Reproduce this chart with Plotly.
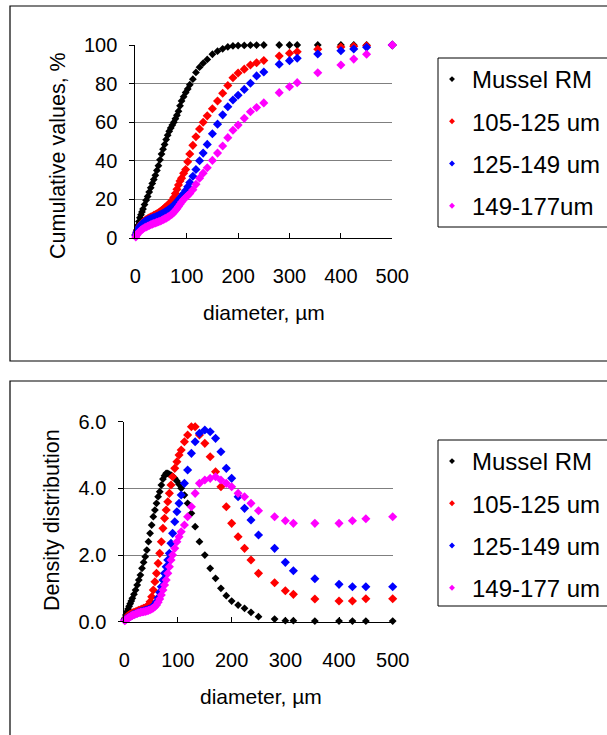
import plotly.graph_objects as go

W, H = 607, 735

diameter = [1, 3, 5, 7, 9, 11, 13, 15, 18, 21, 24, 27, 30, 33, 36, 39, 42, 45, 48, 51,
            54, 57, 60, 63, 66, 69, 72, 75, 78, 81, 84, 87, 90, 94, 98, 102, 106, 112, 118, 125,
            132, 140, 150, 160, 170, 180, 190, 200, 212, 224, 236, 250, 280, 300, 315, 355, 400, 425, 450, 500]

names_top = ["Mussel RM", "105-125 um", "125-149 um", "149-177um"]
names_bot = ["Mussel RM", "105-125 um", "125-149 um", "149-177 um"]
colors = ["#000000", "#ff0000", "#0000ff", "#ff00ff"]

cum_mussel = [2, 4, 6.5, 8.5, 10.5, 12, 13.5, 15, 17.3, 19.5, 21.5, 23.8, 26, 28.3, 30.3, 32.5, 35, 37.5, 40.5, 43.5,
              46, 48.5, 51, 53.3, 55.3, 57, 58.5, 60, 61.8, 63.6, 65.7, 68.5, 71, 73.2, 75.4, 77.2, 79.4, 82.3, 85.8, 88.5,
              90.6, 92.5, 95.2, 96.8, 98, 99, 99.5, 99.7, 99.8, 99.9, 99.95, 100, 100, 100, 100, 100, 100, 100, 100, 100]
cum_105 = [1.5, 3, 4.3, 5.3, 6.2, 7, 7.6, 8.2, 8.9, 9.5, 10, 10.5, 10.9, 11.3, 11.7, 12.1, 12.5, 13, 13.6, 14.2,
           14.9, 15.6, 16.3, 17, 17.7, 18.6, 19.6, 21, 23, 25.2, 27.5, 29.5, 31, 33.5, 35.5, 39.5, 43.5, 48, 52.5, 56.5,
           60, 63.3, 67, 71, 75, 79, 83, 85.5, 87.5, 89.6, 90.8, 92, 94.3, 95.7, 96.5, 97.8, 99, 99.3, 99.6, 100]
cum_125 = [1.5, 3, 4.2, 5.2, 6, 6.7, 7.3, 7.8, 8.4, 8.9, 9.3, 9.7, 10, 10.3, 10.6, 10.9, 11.2, 11.6, 12, 12.4,
           12.8, 13.3, 13.8, 14.3, 14.9, 15.5, 16.2, 17, 17.8, 18.7, 19.6, 20.6, 21.6, 23, 24.6, 26.5, 28.7, 32, 35.5, 40,
           44, 48.5, 54, 59, 63.8, 68, 71.5, 74, 77, 80.2, 84, 86, 90, 91.9, 93.1, 95.3, 97, 97.9, 98.8, 100]
cum_149 = [0.5, 1.5, 2.3, 3, 3.5, 4, 4.4, 4.8, 5.3, 5.7, 6.1, 6.5, 6.9, 7.2, 7.5, 7.8, 8.1, 8.4, 8.7, 9.1,
           9.5, 9.9, 10.3, 10.8, 11.3, 11.9, 12.5, 13.3, 14.2, 15.2, 16.3, 17.5, 18.6, 19.9, 21, 22, 23, 25, 27.8, 31,
           33.6, 36.4, 40.2, 44, 47.7, 52, 55.8, 58.5, 62, 65.4, 67.6, 70, 75.3, 78.4, 80.5, 85.6, 89.6, 92.7, 95.2, 100]

den_mussel = [0.1, 0.2, 0.3, 0.38, 0.46, 0.54, 0.62, 0.7, 0.82, 0.95, 1.1, 1.25, 1.4, 1.6, 1.78, 1.95, 2.15, 2.4, 2.65, 2.9,
              3.15, 3.35, 3.55, 3.75, 3.9, 4.1, 4.28, 4.38, 4.45, 4.45, 4.42, 4.4, 4.36, 4.3, 4.22, 4.12, 4.0, 3.8, 3.55, 3.25,
              2.85, 2.4, 2.0, 1.6, 1.3, 1.0, 0.78, 0.62, 0.5, 0.4, 0.28, 0.15, 0.08, 0.03, 0.03, 0.02, 0.02, 0.02, 0.02, 0.02]
den_105 = [0.05, 0.1, 0.15, 0.18, 0.2, 0.22, 0.24, 0.26, 0.28, 0.3, 0.32, 0.34, 0.36, 0.38, 0.4, 0.42, 0.45, 0.5, 0.6, 0.75,
           0.95, 1.2, 1.45, 1.75, 2.05, 2.4, 2.8, 3.1, 3.35, 3.6, 3.85, 4.1, 4.35, 4.6, 4.8, 5.0, 5.15, 5.4, 5.6, 5.85,
           5.85, 5.6, 5.35, 4.95, 4.5, 4.05, 3.45, 2.95, 2.55, 2.2, 1.85, 1.45, 1.17, 0.93, 0.82, 0.68, 0.62, 0.62, 0.69, 0.69]
den_125 = [0.05, 0.08, 0.1, 0.12, 0.14, 0.16, 0.18, 0.2, 0.22, 0.24, 0.26, 0.28, 0.3, 0.31, 0.32, 0.34, 0.35, 0.37, 0.39, 0.42,
           0.46, 0.52, 0.6, 0.72, 0.88, 1.05, 1.25, 1.45, 1.65, 1.85, 2.05, 2.35, 2.65, 3.0, 3.3, 3.55, 3.8, 4.15, 4.55, 5.05,
           5.4, 5.65, 5.75, 5.7, 5.5, 5.1, 4.6, 4.3, 3.75, 3.4, 3.05, 2.6, 2.2, 1.78, 1.53, 1.29, 1.12, 1.05, 1.05, 1.05]
den_149 = [0.03, 0.06, 0.09, 0.11, 0.13, 0.15, 0.17, 0.19, 0.21, 0.23, 0.25, 0.27, 0.28, 0.29, 0.3, 0.31, 0.32, 0.34, 0.36, 0.38,
           0.41, 0.45, 0.5, 0.58, 0.68, 0.8, 0.95, 1.1, 1.25, 1.45, 1.65, 1.85, 2.0, 2.2, 2.4, 2.55, 2.7, 2.9, 3.15, 3.45,
           3.85, 4.15, 4.25, 4.3, 4.35, 4.25, 4.15, 4.05, 3.85, 3.75, 3.55, 3.33, 3.15, 3.03, 2.95, 2.95, 2.95, 3.03, 3.09, 3.15]

x_ticks = [0, 100, 200, 300, 400, 500]
cum_ticks = [0, 20, 40, 60, 80, 100]
den_ticks = [0, 2, 4, 6]

FONT = "Liberation Sans, Arial, sans-serif"

fig = go.Figure()

cum_series = [cum_mussel, cum_105, cum_125, cum_149]
den_series = [den_mussel, den_105, den_125, den_149]
sizes = [6, 7, 7, 7]

for i in range(4):
    fig.add_trace(go.Scatter(x=diameter, y=cum_series[i], mode="markers", xaxis="x", yaxis="y",
                             marker=dict(symbol="diamond", size=sizes[i], color=colors[i], line=dict(width=0)),
                             cliponaxis=False, showlegend=False))
for i in range(4):
    fig.add_trace(go.Scatter(x=diameter, y=den_series[i], mode="markers", xaxis="x2", yaxis="y2",
                             marker=dict(symbol="diamond", size=sizes[i], color=colors[i], line=dict(width=0)),
                             cliponaxis=False, showlegend=False))
# legend entries
for i in range(4):
    fig.add_trace(go.Scatter(x=[None], y=[None], mode="markers", xaxis="x", yaxis="y", name=names_top[i],
                             legendgroup="t%d" % i, legend="legend",
                             marker=dict(symbol="diamond", size=4.5, color=colors[i], line=dict(width=0))))
for i in range(4):
    fig.add_trace(go.Scatter(x=[None], y=[None], mode="markers", xaxis="x2", yaxis="y2", name=names_bot[i],
                             legendgroup="b%d" % i, legend="legend2",
                             marker=dict(symbol="diamond", size=4.5, color=colors[i], line=dict(width=0))))

def px_x(p):
    return p / W

def px_y(p):
    return 1 - p / H

grid = "#7f7f7f"
common_x = dict(range=[0, 500], tickvals=x_ticks, ticks="inside", ticklen=5, tickcolor="black",
                showline=True, linecolor="black", linewidth=1, showgrid=False, zeroline=False,
                tickfont=dict(family=FONT, size=20, color="black"), ticklabelstandoff=20, fixedrange=True)
common_y = dict(ticks="outside", ticklen=5, tickcolor="black", showline=True, linecolor="black", linewidth=1,
                showgrid=True, gridcolor=grid, gridwidth=1, zeroline=False,
                tickfont=dict(family=FONT, size=20, color="black"), ticklabelstandoff=8, fixedrange=True)

fig.update_layout(
    width=W, height=H, margin=dict(l=0, r=0, t=0, b=0, autoexpand=False),
    paper_bgcolor="white", plot_bgcolor="rgba(0,0,0,0)",
    font=dict(family=FONT, color="black"),
    xaxis=dict(domain=[px_x(135.3), px_x(392.3)], anchor="y", **common_x),
    yaxis=dict(domain=[px_y(238), px_y(45)], anchor="x", range=[0, 100], tickvals=cum_ticks, **common_y),
    xaxis2=dict(domain=[px_x(124.3), px_x(392.7)], anchor="y2", **common_x),
    yaxis2=dict(domain=[px_y(621.7), px_y(421.7)], anchor="x2", range=[0, 6], tickvals=den_ticks,
                tickformat=".1f", **common_y),
    legend=dict(x=px_x(432), y=px_y(57), xanchor="left", yanchor="top", bgcolor="rgba(0,0,0,0)",
                borderwidth=0, font=dict(family=FONT, size=24, color="black"),
                traceorder="grouped", tracegroupgap=8),
    legend2=dict(x=px_x(432), y=px_y(439), xanchor="left", yanchor="top", bgcolor="rgba(0,0,0,0)",
                 borderwidth=0, font=dict(family=FONT, size=24, color="black"),
                 traceorder="grouped", tracegroupgap=8),
    shapes=[
        dict(type="rect", xref="paper", yref="paper", x0=px_x(10), x1=px_x(640), y0=px_y(6), y1=px_y(361),
             line=dict(color="black", width=1.2), fillcolor="rgba(0,0,0,0)", layer="below"),
        dict(type="rect", xref="paper", yref="paper", x0=px_x(10), x1=px_x(640), y0=px_y(381), y1=px_y(760),
             line=dict(color="black", width=1.2), fillcolor="rgba(0,0,0,0)", layer="below"),
        dict(type="rect", xref="paper", yref="paper", x0=px_x(438), x1=px_x(640), y0=px_y(58), y1=px_y(227),
             line=dict(color="black", width=1), fillcolor="rgba(0,0,0,0)", layer="below"),
        dict(type="rect", xref="paper", yref="paper", x0=px_x(438), x1=px_x(640), y0=px_y(440), y1=px_y(606),
             line=dict(color="black", width=1), fillcolor="rgba(0,0,0,0)", layer="below"),
    ],
    annotations=[
        dict(text="Cumulative values, %", xref="paper", yref="paper", x=px_x(58), y=px_y(156),
             textangle=-90, showarrow=False, font=dict(family=FONT, size=21.5, color="black"),
             xanchor="center", yanchor="middle"),
        dict(text="diameter, µm", xref="paper", yref="paper", x=px_x(264), y=px_y(312),
             showarrow=False, font=dict(family=FONT, size=21, color="black"),
             xanchor="center", yanchor="middle"),
        dict(text="Density distribution", xref="paper", yref="paper", x=px_x(52), y=px_y(520),
             textangle=-90, showarrow=False, font=dict(family=FONT, size=21.5, color="black"),
             xanchor="center", yanchor="middle"),
        dict(text="diameter, µm", xref="paper", yref="paper", x=px_x(261), y=px_y(696),
             showarrow=False, font=dict(family=FONT, size=21, color="black"),
             xanchor="center", yanchor="middle"),
    ],
)

fig.write_html("out.html")
